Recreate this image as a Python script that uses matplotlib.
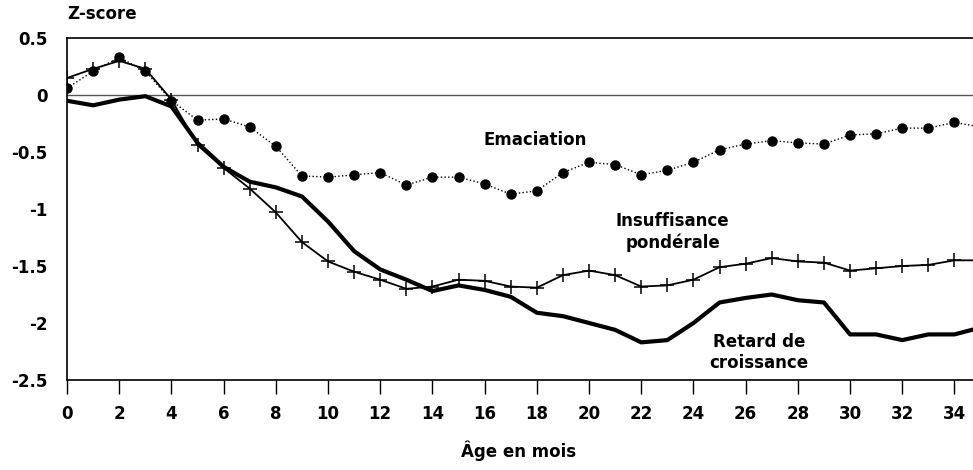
import numpy as np
import matplotlib
matplotlib.use("Agg")
import matplotlib.pyplot as plt

# Data (Z-score by age in months)
months = list(range(0, 36))
emaciation = [0.06, 0.21, 0.33, 0.21, -0.05, -0.22, -0.21, -0.28, -0.45, -0.71,
              -0.72, -0.70, -0.68, -0.79, -0.72, -0.72, -0.78, -0.87, -0.84, -0.68,
              -0.59, -0.61, -0.70, -0.66, -0.59, -0.48, -0.43, -0.40, -0.42, -0.43,
              -0.35, -0.34, -0.29, -0.29, -0.24, -0.28]
insuffisance = [0.15, 0.23, 0.30, 0.23, -0.04, -0.44, -0.64, -0.82, -1.03, -1.29,
                -1.46, -1.55, -1.62, -1.70, -1.68, -1.62, -1.63, -1.68, -1.69, -1.58,
                -1.54, -1.58, -1.68, -1.67, -1.62, -1.51, -1.48, -1.43, -1.46, -1.47,
                -1.54, -1.52, -1.50, -1.49, -1.45, -1.45]
retard = [-0.05, -0.09, -0.04, -0.01, -0.10, -0.42, -0.63, -0.76, -0.81, -0.89,
          -1.11, -1.37, -1.53, -1.62, -1.72, -1.67, -1.71, -1.77, -1.91, -1.94,
          -2.00, -2.06, -2.17, -2.15, -2.00, -1.82, -1.78, -1.75, -1.80, -1.82,
          -2.10, -2.10, -2.15, -2.10, -2.10, -2.04]
xticks = list(range(0, 35, 2))
yticks = [0.5, 0, -0.5, -1, -1.5, -2, -2.5]
ytick_labels = ["0.5", "0", "-0.5", "-1", "-1.5", "-2", "-2.5"]

plt.rcParams['font.family'] = ['DejaVu Sans']
plt.rcParams['font.weight'] = 'bold'

fig = plt.figure(figsize=(9.73, 4.70), dpi=100)
ax = fig.add_axes([0.0689, 0.1915, 0.9311, 0.7275])

# zero reference line
ax.axhline(0, color='#555555', linewidth=1.0, zorder=1)

ax.plot(months, retard, color='black', linewidth=3.0, zorder=2)
ax.plot(months, insuffisance, color='black', linewidth=1.3, marker='+',
        markersize=10, markeredgewidth=1.1, zorder=3)
ax.plot(months, emaciation, color='black', linewidth=1.0, linestyle=':',
        marker='o', markersize=6.5, zorder=4)

ax.set_xlim(0, 34.71)
ax.set_ylim(-2.5, 0.5)
ax.set_xticks(xticks)
ax.set_yticks(yticks)
ax.set_yticklabels(ytick_labels)

ax.spines['right'].set_visible(False)
for s in ['top', 'bottom', 'left']:
    ax.spines[s].set_linewidth(1.2)
ax.tick_params(axis='x', direction='out', length=10, width=1, labelsize=12, pad=8)
ax.tick_params(axis='y', length=0, labelsize=12, pad=14)

ax.text(17.95, -0.39, "Emaciation", ha='center', va='center', fontsize=12, fontweight='bold')
ax.text(23.2, -1.2, "Insuffisance\npondérale", ha='center', va='center', fontsize=12,
        fontweight='bold', linespacing=1.25)
ax.text(26.5, -2.26, "Retard de\ncroissance", ha='center', va='center', fontsize=12,
        fontweight='bold', linespacing=1.25)

fig.text(0.069, 0.97, "Z-score", ha='left', va='center', fontsize=12, fontweight='bold')
fig.text(0.533, 0.04, "Âge en mois", ha='center', va='center', fontsize=12, fontweight='bold')

fig.savefig("out.png", dpi=100)
